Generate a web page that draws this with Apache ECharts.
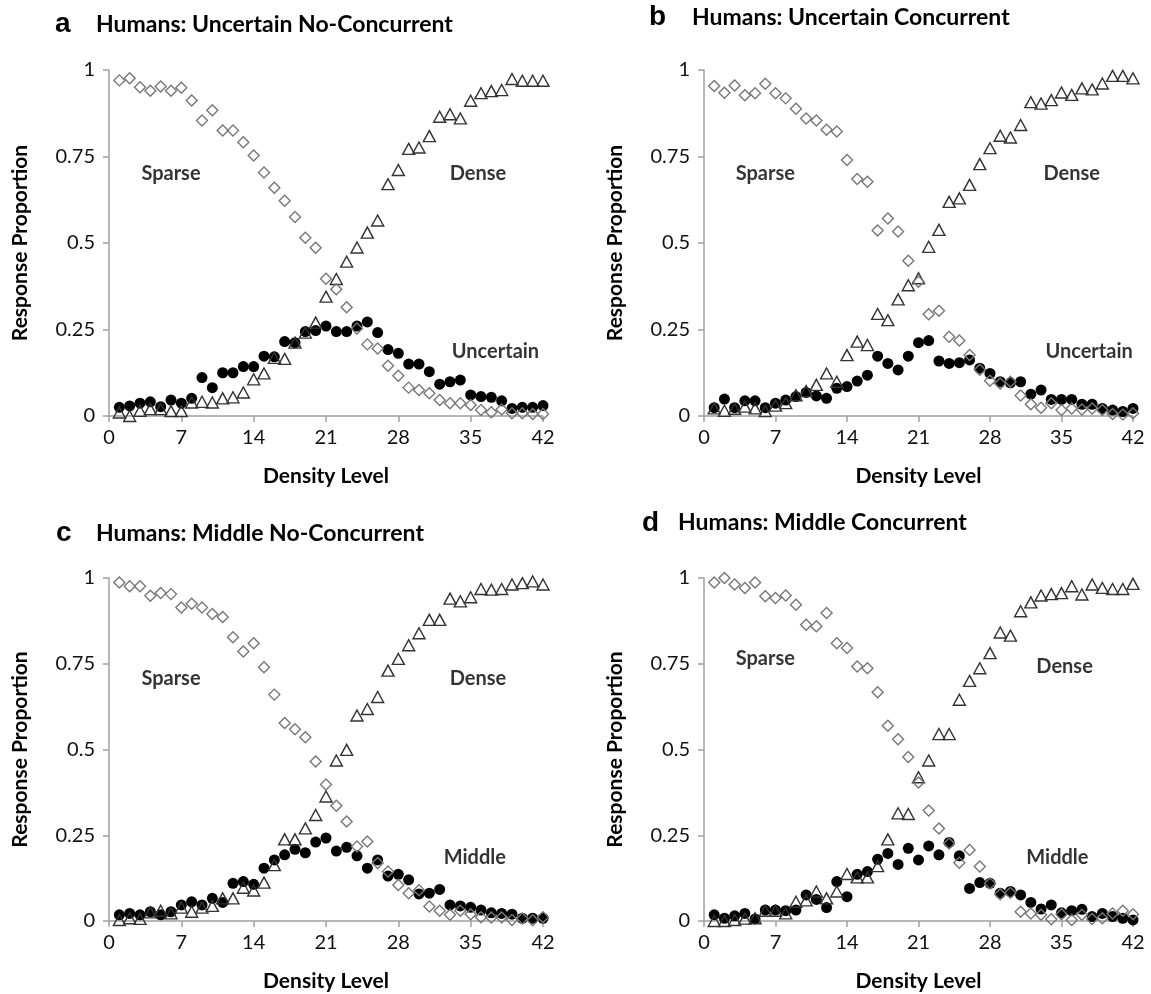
<!DOCTYPE html>
<html>
<head>
<meta charset="utf-8">
<script src="https://cdn.jsdelivr.net/npm/echarts@6/dist/echarts.min.js"></script>
<style>
html,body{margin:0;padding:0;background:#fff;}
#chart{width:1151px;height:994px;}
</style>
</head>
<body>
<div id="chart"></div>
<script>
// ---- data ----
var densityLevels = [1,2,3,4,5,6,7,8,9,10,11,12,13,14,15,16,17,18,19,20,21,22,23,24,25,26,27,28,29,30,31,32,33,34,35,36,37,38,39,40,41,42];
var xTicks = [0,7,14,21,28,35,42];
var yTicks = [0,0.25,0.5,0.75,1];

var panelLetters = ['a','b','c','d'];
var panelTitles = ['Humans: Uncertain No-Concurrent','Humans: Uncertain Concurrent','Humans: Middle No-Concurrent','Humans: Middle Concurrent'];
var thirdNames = ['Uncertain','Uncertain','Middle','Middle'];

// Panel a
var sparseA = [0.970,0.976,0.950,0.940,0.952,0.940,0.949,0.912,0.854,0.884,0.825,0.825,0.791,0.753,0.704,0.660,0.622,0.575,0.515,0.486,0.397,0.366,0.314,0.253,0.207,0.195,0.145,0.116,0.082,0.075,0.066,0.046,0.037,0.037,0.032,0.017,0.011,0.019,0.008,0.008,0.006,0.006];
var denseA = [0.010,0.000,0.015,0.020,0.020,0.014,0.014,0.039,0.041,0.039,0.051,0.054,0.068,0.106,0.123,0.168,0.165,0.212,0.241,0.270,0.345,0.396,0.446,0.487,0.530,0.565,0.670,0.711,0.772,0.776,0.809,0.865,0.872,0.860,0.911,0.933,0.939,0.942,0.974,0.969,0.969,0.969];
var thirdA = [0.025,0.029,0.037,0.041,0.027,0.046,0.037,0.051,0.111,0.082,0.125,0.125,0.143,0.143,0.173,0.171,0.215,0.212,0.244,0.247,0.260,0.244,0.244,0.260,0.272,0.241,0.192,0.181,0.150,0.150,0.128,0.092,0.099,0.104,0.061,0.056,0.054,0.044,0.022,0.025,0.025,0.030];

// Panel b
var sparseB = [0.954,0.934,0.955,0.927,0.933,0.960,0.933,0.918,0.888,0.860,0.854,0.827,0.822,0.740,0.685,0.677,0.536,0.571,0.533,0.449,0.388,0.294,0.304,0.229,0.218,0.176,0.134,0.102,0.094,0.099,0.059,0.034,0.024,0.037,0.017,0.022,0.019,0.022,0.017,0.006,0.004,0.008];
var denseB = [0.022,0.015,0.021,0.027,0.022,0.014,0.030,0.037,0.060,0.072,0.090,0.123,0.099,0.176,0.215,0.205,0.295,0.277,0.337,0.378,0.398,0.489,0.538,0.619,0.629,0.668,0.728,0.774,0.810,0.805,0.841,0.907,0.903,0.913,0.935,0.928,0.947,0.944,0.961,0.983,0.983,0.976];
var thirdB = [0.024,0.049,0.024,0.044,0.044,0.024,0.037,0.046,0.056,0.068,0.058,0.051,0.080,0.085,0.101,0.118,0.173,0.152,0.133,0.173,0.212,0.218,0.159,0.152,0.154,0.162,0.138,0.123,0.099,0.096,0.099,0.063,0.075,0.048,0.048,0.048,0.034,0.034,0.022,0.017,0.013,0.022];

// Panel c
var sparseC = [0.987,0.976,0.976,0.948,0.956,0.953,0.914,0.925,0.914,0.895,0.886,0.827,0.786,0.810,0.740,0.660,0.577,0.559,0.536,0.465,0.398,0.336,0.290,0.217,0.232,0.169,0.144,0.105,0.081,0.090,0.042,0.030,0.018,0.030,0.020,0.011,0.010,0.010,0.003,0.007,0.002,0.011];
var denseC = [0.003,0.008,0.006,0.025,0.030,0.022,0.039,0.027,0.039,0.044,0.066,0.066,0.097,0.089,0.112,0.163,0.238,0.238,0.270,0.309,0.363,0.468,0.499,0.599,0.618,0.653,0.730,0.764,0.804,0.839,0.878,0.878,0.940,0.932,0.944,0.968,0.966,0.968,0.981,0.985,0.990,0.981];
var thirdC = [0.018,0.022,0.018,0.027,0.018,0.027,0.047,0.056,0.047,0.066,0.054,0.110,0.115,0.107,0.154,0.178,0.193,0.209,0.199,0.230,0.242,0.204,0.215,0.190,0.154,0.178,0.131,0.136,0.120,0.079,0.081,0.092,0.047,0.044,0.040,0.032,0.024,0.022,0.020,0.008,0.008,0.008];

// Panel d
var sparseD = [0.987,1.000,0.981,0.971,0.987,0.947,0.942,0.949,0.922,0.864,0.859,0.898,0.810,0.796,0.742,0.737,0.667,0.569,0.530,0.478,0.404,0.322,0.270,0.226,0.170,0.207,0.159,0.109,0.078,0.082,0.027,0.022,0.018,0.005,0.020,0.003,0.018,0.006,0.008,0.022,0.030,0.020];
var denseD = [0.000,0.000,0.003,0.007,0.008,0.030,0.030,0.022,0.056,0.060,0.086,0.066,0.086,0.137,0.127,0.127,0.160,0.238,0.314,0.312,0.419,0.468,0.545,0.545,0.645,0.700,0.737,0.781,0.841,0.832,0.903,0.929,0.949,0.953,0.956,0.976,0.952,0.981,0.971,0.968,0.968,0.983];
var thirdD = [0.018,0.008,0.015,0.022,0.006,0.032,0.032,0.030,0.032,0.076,0.063,0.039,0.115,0.071,0.136,0.144,0.180,0.197,0.165,0.212,0.178,0.219,0.193,0.229,0.190,0.095,0.112,0.110,0.081,0.086,0.076,0.054,0.035,0.047,0.024,0.030,0.034,0.013,0.022,0.013,0.008,0.003];

var sparseAll = [sparseA, sparseB, sparseC, sparseD];
var denseAll = [denseA, denseB, denseC, denseD];
var thirdAll = [thirdA, thirdB, thirdC, thirdD];

// ---- layout ----
var grids = [
  {left:109, top:70, width:434, height:346},
  {left:704, top:70, width:429, height:346},
  {left:109, top:578, width:434, height:343},
  {left:704, top:578, width:429, height:343}
];
var letterPos = [[55,10],[649,3],[56,519],[642,509]];
var titlePos = [[96,13],[692,6],[96,522],[678,511]];
// annotation positions in data coords [x, y]
var annot = [
  {sparse:[6.0,0.70], dense:[35.7,0.70], third:[37.4,0.185]},
  {sparse:[6.0,0.70], dense:[36.0,0.70], third:[37.7,0.185]},
  {sparse:[6.0,0.706], dense:[35.7,0.706], third:[35.4,0.184]},
  {sparse:[6.0,0.764], dense:[35.3,0.741], third:[34.6,0.184]}
];

var labelFont = 'Lato, "Open Sans", sans-serif';
var axisColor = '#a0a0a0';

function pairs(arr){ return densityLevels.map(function(x,i){ return [x, arr[i]]; }); }

var option = {
  animation:false,
  backgroundColor:'#ffffff',
  title: [],
  grid: grids,
  xAxis: [],
  yAxis: [],
  series: []
};

for (var p=0; p<4; p++){
  option.title.push({
    text: panelLetters[p], left: letterPos[p][0], top: letterPos[p][1], padding:0,
    textStyle:{fontFamily:'"Liberation Sans", Arial, sans-serif', fontWeight:'bold', fontSize:28, color:'#000'}
  });
  option.title.push({
    text: panelTitles[p], left: titlePos[p][0], top: titlePos[p][1], padding:0,
    textStyle:{fontFamily:labelFont, fontWeight:'bold', fontSize:23, color:'#000'}
  });
  option.xAxis.push({
    type:'value', gridIndex:p, min:0, max:42, interval:7,
    name:'Density Level', nameLocation:'middle', nameGap:50,
    nameTextStyle:{fontFamily:labelFont, fontWeight:'bold', fontSize:21, color:'#000'},
    axisLine:{show:true, onZero:false, lineStyle:{color:axisColor, width:1.5}},
    axisTick:{show:true, inside:false, length:6, lineStyle:{color:axisColor, width:1.5}},
    axisLabel:{fontFamily:labelFont, fontSize:20, color:'#111', margin:12},
    splitLine:{show:false}
  });
  option.yAxis.push({
    type:'value', gridIndex:p, min:0, max:1, interval:0.25,
    name:'Response Proportion', nameLocation:'middle', nameGap:78,
    nameTextStyle:{fontFamily:labelFont, fontWeight:'bold', fontSize:21, color:'#000'},
    axisLine:{show:true, lineStyle:{color:axisColor, width:1.5}},
    axisTick:{show:true, inside:false, length:6, lineStyle:{color:axisColor, width:1.5}},
    axisLabel:{fontFamily:labelFont, fontSize:20, color:'#111', margin:14},
    splitLine:{show:false}
  });
  option.series.push({
    type:'scatter', name:thirdNames[p], xAxisIndex:p, yAxisIndex:p,
    symbol:'circle', symbolSize:11,
    itemStyle:{color:'#000', opacity:1},
    data: pairs(thirdAll[p]), z:2
  });
  option.series.push({
    type:'scatter', name:'Dense', xAxisIndex:p, yAxisIndex:p,
    symbol:'triangle', symbolSize:[12,11],
    itemStyle:{color:'rgba(255,255,255,0)', borderColor:'#333', borderWidth:1.4, opacity:1},
    data: pairs(denseAll[p]), z:3
  });
  option.series.push({
    type:'scatter', name:'Sparse', xAxisIndex:p, yAxisIndex:p,
    symbol:'diamond', symbolSize:[11,11],
    itemStyle:{color:'rgba(255,255,255,0)', borderColor:'#777', borderWidth:1.4, opacity:1},
    data: pairs(sparseAll[p]), z:4
  });
  var a = annot[p];
  option.series.push({
    type:'scatter', xAxisIndex:p, yAxisIndex:p, silent:true, symbolSize:0, z:5,
    label:{show:true, position:'inside', formatter:function(d){return d.name;},
      fontFamily:labelFont, fontWeight:'bold', fontSize:20, color:'#000'},
    data:[
      {name:'Sparse', value:a.sparse},
      {name:'Dense', value:a.dense},
      {name:thirdNames[p], value:a.third}
    ]
  });
}

var chart = echarts.init(document.getElementById('chart'), null, {renderer:'canvas'});
chart.setOption(option);
</script>
</body>
</html>
